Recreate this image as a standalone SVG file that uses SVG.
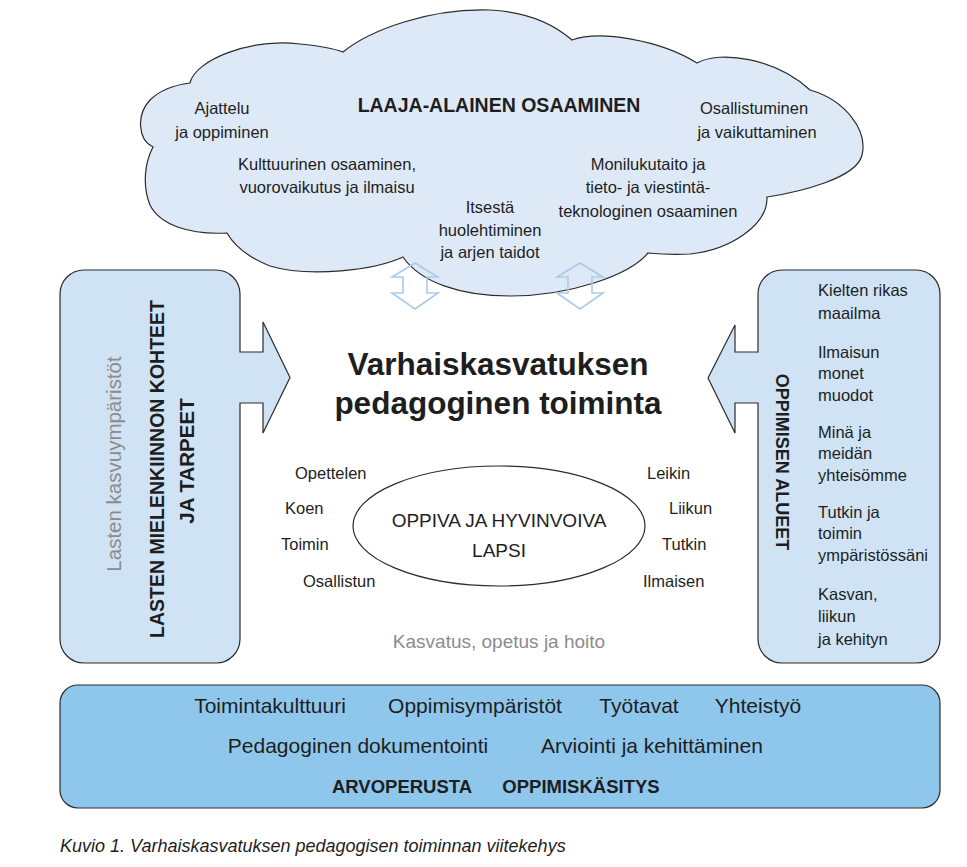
<svg xmlns="http://www.w3.org/2000/svg" width="967" height="867" viewBox="0 0 967 867">
<style>
text{font-family:"Liberation Sans",Arial,sans-serif;fill:#1e1e1e}
.s{font-size:16.5px}
.c{text-anchor:middle}
.b{font-weight:bold}
.g{fill:#8c8c8c}
.m{font-size:21px}
.shape{stroke:#2b2b2b;stroke-width:1.2}
.dbl{fill:none;stroke:#a9cbe9;stroke-width:1.6;stroke-linejoin:miter}
</style>
<rect width="967" height="867" fill="#fff"/>
<g id="cloud">
<path class="shape" fill="#dde9f6" d="M190,83 C195,60 250,38 300,44 C320,46 335,49 343,52 C370,30 430,8 490,10 C530,12 555,25 572,40 C600,30 660,40 697,63 C720,50 775,58 810,90 C845,100 868,130 862,155 C857,178 800,192 767,197 C768,225 730,250 690,254 C672,255 658,254 648,253 C630,275 570,296 510,296 C460,296 420,282 403,257 C375,270 310,278 270,266 C250,258 235,247 227,233 C190,235 160,225 150,205 C142,185 145,162 153,147 C138,140 136,115 150,100 C160,90 175,85 190,83 Z"/>
<text class="b c" x="499" y="112" font-size="19.5">LAAJA-ALAINEN OSAAMINEN</text>
<text class="s c" x="222" y="114">Ajattelu</text>
<text class="s c" x="222" y="138">ja oppiminen</text>
<text class="s c" x="327" y="170">Kulttuurinen osaaminen,</text>
<text class="s c" x="327" y="193">vuorovaikutus ja ilmaisu</text>
<text class="s c" x="490" y="213">Itsestä</text>
<text class="s c" x="490" y="236">huolehtiminen</text>
<text class="s c" x="490" y="258">ja arjen taidot</text>
<text class="s c" x="754" y="114">Osallistuminen</text>
<text class="s c" x="757" y="138">ja vaikuttaminen</text>
<text class="s c" x="648" y="170">Monilukutaito ja</text>
<text class="s c" x="648" y="193">tieto- ja viestintä-</text>
<text class="s c" x="648" y="217">teknologinen osaaminen</text>
</g>
<g id="connectors">
<path class="dbl" d="M415,263 L438,277 L427,277 L427,293 L438,293 L415,309 L392,293 L403,293 L403,277 L392,277 Z"/>
<path class="dbl" d="M580,263 L603,277 L592,277 L592,293 L603,293 L580,309 L557,293 L568,293 L568,277 L557,277 Z"/>
</g>
<g id="left-panel">
<path class="shape" fill="#cfe3f4" d="M84,270 L216,270 A24,24 0 0 1 240,294 L240,352 L263,352 L263,322 L290,377.5 L263,433 L263,403 L240,403 L240,639 A24,24 0 0 1 216,663 L84,663 A24,24 0 0 1 60,639 L60,294 A24,24 0 0 1 84,270 Z"/>
<text class="g c" transform="translate(121,464) rotate(-90)" font-size="20.5">Lasten kasvuympäristöt</text>
<text class="b c" transform="translate(164,469) rotate(-90)" font-size="19.5">LASTEN MIELENKIINNON KOHTEET</text>
<text class="b c" transform="translate(194,461) rotate(-90)" font-size="20.5">JA TARPEET</text>
</g>
<g id="right-panel">
<path class="shape" fill="#cfe3f4" d="M782,270 L916,270 A24,24 0 0 1 940,294 L940,639 A24,24 0 0 1 916,663 L782,663 A24,24 0 0 1 758,639 L758,403 L735,403 L735,433 L708,378 L735,325 L735,352 L758,352 L758,294 A24,24 0 0 1 782,270 Z"/>
<text class="b c" transform="translate(776,462) rotate(90)" font-size="18">OPPIMISEN ALUEET</text>
<text class="s" x="818" y="296">Kielten rikas</text>
<text class="s" x="818" y="319">maailma</text>
<text class="s" x="818" y="358">Ilmaisun</text>
<text class="s" x="818" y="379">monet</text>
<text class="s" x="818" y="401">muodot</text>
<text class="s" x="818" y="438">Minä ja</text>
<text class="s" x="818" y="459">meidän</text>
<text class="s" x="818" y="481">yhteisömme</text>
<text class="s" x="818" y="518">Tutkin ja</text>
<text class="s" x="818" y="539">toimin</text>
<text class="s" x="818" y="561">ympäristössäni</text>
<text class="s" x="818" y="600">Kasvan,</text>
<text class="s" x="818" y="622">liikun</text>
<text class="s" x="818" y="645">ja kehityn</text>
</g>
<g id="center-title">
<text class="b c" x="498" y="375" font-size="31.5">Varhaiskasvatuksen</text>
<text class="b c" x="498" y="414" font-size="31.5">pedagoginen toiminta</text>
</g>
<g id="child">
<ellipse class="shape" fill="none" cx="499" cy="526" rx="146" ry="60"/>
<text class="c" x="499" y="527" font-size="19">OPPIVA JA HYVINVOIVA</text>
<text class="c" x="499" y="557" font-size="19">LAPSI</text>
</g>
<g id="verbs">
<text class="s" x="295" y="479">Opettelen</text>
<text class="s" x="285" y="514">Koen</text>
<text class="s" x="281" y="550">Toimin</text>
<text class="s" x="303" y="587">Osallistun</text>
<text class="s" x="647" y="479">Leikin</text>
<text class="s" x="669" y="514">Liikun</text>
<text class="s" x="662" y="550">Tutkin</text>
<text class="s" x="643" y="587">Ilmaisen</text>
</g>
<g id="kasvatus">
<text class="g c" x="499" y="648" font-size="19">Kasvatus, opetus ja hoito</text>
</g>
<g id="bottom-panel">
<rect class="shape" x="60" y="685" width="880" height="123" rx="18" fill="#8ec7eb"/>
<text class="c m" x="270" y="713">Toimintakulttuuri</text>
<text class="c m" x="475" y="713">Oppimisympäristöt</text>
<text class="c m" x="639" y="713">Työtavat</text>
<text class="c m" x="758" y="713">Yhteistyö</text>
<text class="c m" x="358" y="753">Pedagoginen dokumentointi</text>
<text class="c m" x="652" y="753">Arviointi ja kehittäminen</text>
<text class="c b" x="402" y="793" font-size="18.5">ARVOPERUSTA</text>
<text class="c b" x="581" y="793" font-size="18.5">OPPIMISKÄSITYS</text>
</g>
<g id="caption">
<text x="60" y="852" font-size="18" font-style="italic" fill="#333">Kuvio 1. Varhaiskasvatuksen pedagogisen toiminnan viitekehys</text>
</g>
</svg>
